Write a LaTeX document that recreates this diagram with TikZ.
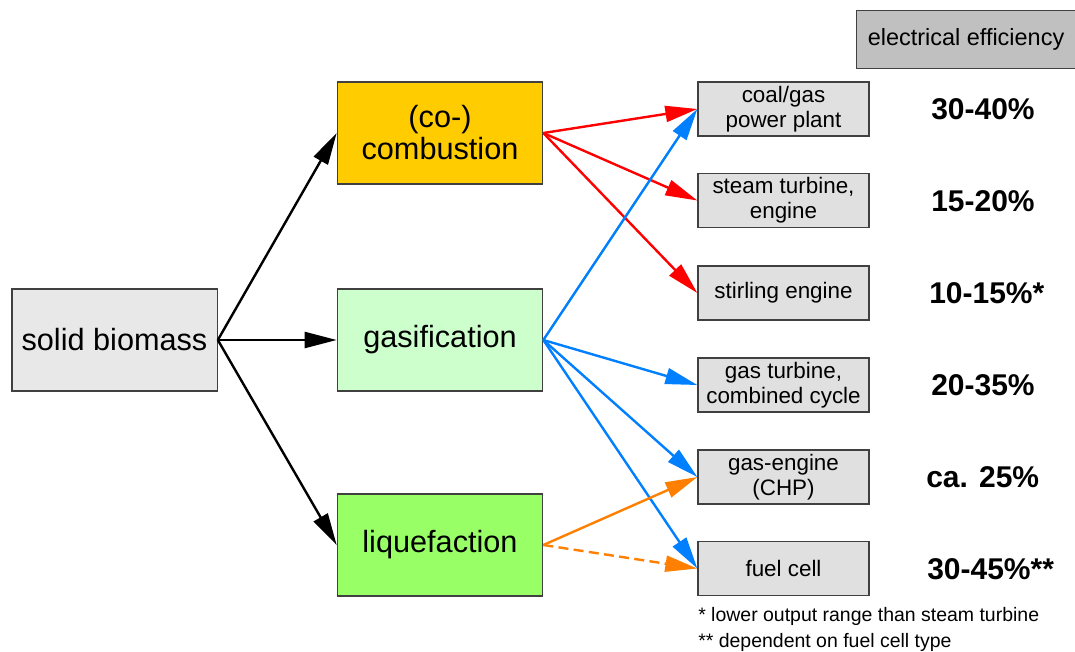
\documentclass[tikz,border=0pt]{standalone}
\usepackage{fontspec}
\setmainfont{Liberation Sans}
\usetikzlibrary{arrows.meta}
\definecolor{boxline}{HTML}{404040}
\definecolor{combfill}{HTML}{FFCC00}
\definecolor{gasfill}{HTML}{CCFFCC}
\definecolor{liqfill}{HTML}{99FF66}
\definecolor{biofill}{HTML}{E8E8E8}
\definecolor{outfill}{HTML}{E0E0E0}
\definecolor{headfill}{HTML}{C0C0C0}
\definecolor{redline}{HTML}{FF0000}
\definecolor{blueline}{HTML}{0080FF}
\definecolor{orangeline}{HTML}{FF8000}
\tikzset{
  bigbox/.style={draw=boxline, line width=1pt, minimum width=154pt, minimum height=76.5pt, inner sep=0pt, align=center, font=\fontsize{23}{24}\selectfont},
  outbox/.style={draw=boxline, line width=1pt, fill=outfill, minimum width=128.25pt, minimum height=40.5pt, inner sep=0pt, align=center, font=\fontsize{16.8}{18.75}\selectfont},
  pct/.style={anchor=west, inner sep=0pt, font=\fontsize{22.5}{24}\selectfont\bfseries},
  note/.style={anchor=west, inner sep=0pt, font=\fontsize{14.6}{16}\selectfont},
  conn/.style={line width=1.8pt, -{Triangle[length=24pt,width=12pt]}},
}
\begin{document}
\begin{tikzpicture}[x=0.75pt,y=-0.75pt]
\useasboundingbox (0,0) rectangle (1075,651);
% header
\node[draw=boxline, line width=1pt, fill=headfill, minimum width=168pt, minimum height=43.5pt, inner sep=0pt, anchor=north west, font=\fontsize{17.6}{20}\selectfont] (head) at (856,10) {\hspace*{-4pt}electrical efficiency};
% main boxes
\node[bigbox, fill=biofill] (bio) at (114.5,340) {solid biomass};
\node[bigbox, fill=combfill] (comb) at (440,133) {(co-)\\combustion};
\node[bigbox, fill=gasfill] (gas) at (440,340) {gasification};
\node[bigbox, fill=liqfill] (liq) at (440,545) {liquefaction};
% output boxes
\node[outbox] (coal) at (783.5,109) {coal/gas\\power plant};
\node[outbox] (steam) at (783.5,200.5) {steam turbine,\\engine};
\node[outbox] (stir) at (783.5,293) {stirling engine};
\node[outbox] (gt) at (783.5,385) {gas turbine,\\combined cycle};
\node[outbox] (ge) at (783.5,477) {gas-engine\\(CHP)};
\node[outbox] (fc) at (783.5,568.5) {fuel cell};
% percentages
\node[pct] (p1) at (931,109) {30-40\%};
\node[pct] (p2) at (931,201) {15-20\%};
\node[pct] (p3) at (929,293) {10-15\%*};
\node[pct] (p4) at (931,385) {20-35\%};
\node[pct] (p5) at (926,477) {ca. 25\%};
\node[pct] (p6) at (927,569) {30-45\%**};
% footnotes
\node[note] (n1) at (698,616) {* lower output range than steam turbine};
\node[note] (n2) at (698,642) {** dependent on fuel cell type};
% connectors
\draw[conn, black] (bio.east) -- (comb.west);
\draw[conn, black] (bio.east) -- (gas.west);
\draw[conn, black] (bio.east) -- (liq.west);
\draw[conn, redline] (comb.east) -- (coal.west);
\draw[conn, redline] (comb.east) -- (steam.west);
\draw[conn, redline] (comb.east) -- (stir.west);
\draw[conn, blueline] (gas.east) -- (coal.west);
\draw[conn, blueline] (gas.east) -- (gt.west);
\draw[conn, blueline] (gas.east) -- (ge.west);
\draw[conn, blueline] (gas.east) -- (fc.west);
\draw[conn, orangeline] (liq.east) -- (ge.west);
\draw[conn, orangeline, dash pattern=on 7.5pt off 4pt] (liq.east) -- (fc.west);
\end{tikzpicture}
\end{document}
